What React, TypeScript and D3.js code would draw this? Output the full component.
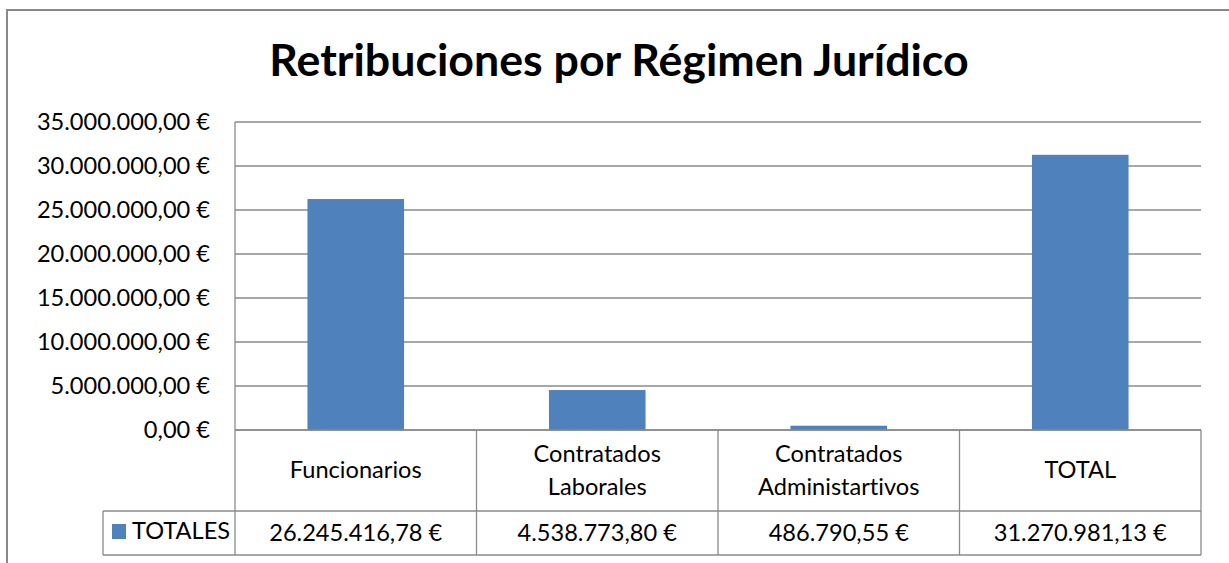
import React from "react";
import * as d3 from "d3";

const categories = ["Funcionarios", "Contratados Laborales", "Contratados Administartivos", "TOTAL"];
const categoryLines = [["Funcionarios"], ["Contratados", "Laborales"], ["Contratados", "Administartivos"], ["TOTAL"]];
const values = [26245416.78, 4538773.8, 486790.55, 31270981.13];
const seriesName = "TOTALES";
const yTicks = [0, 5000000, 10000000, 15000000, 20000000, 25000000, 30000000, 35000000];
const title = "Retribuciones por Régimen Jurídico";

const W = 1229;
const H = 563;
const FONT = "Lato, 'Open Sans', sans-serif";
const BAR = "#4F81BD";
const GRID = "#8a8a8a";

const locale = d3.formatLocale({ decimal: ",", thousands: ".", grouping: [3], currency: ["", " €"] });
const fmt = (v: number) => locale.format(",.2f")(v) + " €";

export default function App() {
  const left = 235, right = 1201, top = 122, bottom = 430;
  const catRowBottom = 511, valRowBottom = 555, legendLeft = 103;
  const y = d3.scaleLinear().domain([0, 35000000]).range([bottom, top]);
  const x = d3.scaleBand<string>().domain(categories).range([left, right]).paddingInner(0.6).paddingOuter(0.3);
  const step = x.step();
  const fs = 23.6;
  return (
    <svg width={W} height={H} style={{ position: "absolute", left: 0, top: 0, background: "#fff", fontVariantLigatures: "none" }} fontFamily={FONT}>
      <rect x={0} y={0} width={W} height={H} fill="#fff" />
      <rect x={7} y={10} width={1400} height={700} fill="none" stroke="#898989" strokeWidth={2} />
      <text x={619} y={76} textAnchor="middle" fontSize={44.7} fontWeight="bold" fill="#000">{title}</text>
      {yTicks.map((t) => (
        <g key={t}>
          <line x1={left} x2={right} y1={y(t)} y2={y(t)} stroke={GRID} strokeWidth={1.3} />
          <text x={210} y={y(t)} dy="0.35em" textAnchor="end" fontSize={fs} fill="#000">{fmt(t)}</text>
        </g>
      ))}
      {categories.map((c, i) => (
        <rect key={c} x={x(c)} y={y(values[i])} width={x.bandwidth()} height={y(0) - y(values[i])} fill={BAR} />
      ))}
      {/* data table */}
      <line x1={left} x2={left} y1={top} y2={valRowBottom} stroke={GRID} strokeWidth={1.3} />
      <line x1={right} x2={right} y1={bottom} y2={valRowBottom} stroke={GRID} strokeWidth={1.3} />
      <line x1={left} x2={right} y1={bottom} y2={bottom} stroke={GRID} strokeWidth={1.3} />
      <line x1={legendLeft} x2={right} y1={catRowBottom} y2={catRowBottom} stroke={GRID} strokeWidth={1.3} />
      <line x1={legendLeft} x2={right} y1={valRowBottom} y2={valRowBottom} stroke={GRID} strokeWidth={1.3} />
      <line x1={legendLeft} x2={legendLeft} y1={catRowBottom} y2={valRowBottom} stroke={GRID} strokeWidth={1.3} />
      {categories.map((c, i) => {
        const x0 = (x(c) as number) - step * 0.3;
        const cx = (x(c) as number) + x.bandwidth() / 2;
        const lines = categoryLines[i];
        const lh = 33;
        const cy = 470;
        return (
          <g key={"t" + c}>
            {i > 0 && <line x1={x0} x2={x0} y1={bottom} y2={valRowBottom} stroke={GRID} strokeWidth={1.3} />}
            {lines.map((l, j) => (
              <text key={j} x={cx} y={cy + (j - (lines.length - 1) / 2) * lh} dy="0.35em" textAnchor="middle" fontSize={fs} fill="#000">{l}</text>
            ))}
            <text x={cx} y={533} dy="0.35em" textAnchor="middle" fontSize={fs} fill="#000">{fmt(values[i])}</text>
          </g>
        );
      })}
      <rect x={112} y={524} width={14} height={15} fill={BAR} />
      <text x={132} y={531} dy="0.35em" fontSize={fs} fill="#000">{seriesName}</text>
    </svg>
  );
}
